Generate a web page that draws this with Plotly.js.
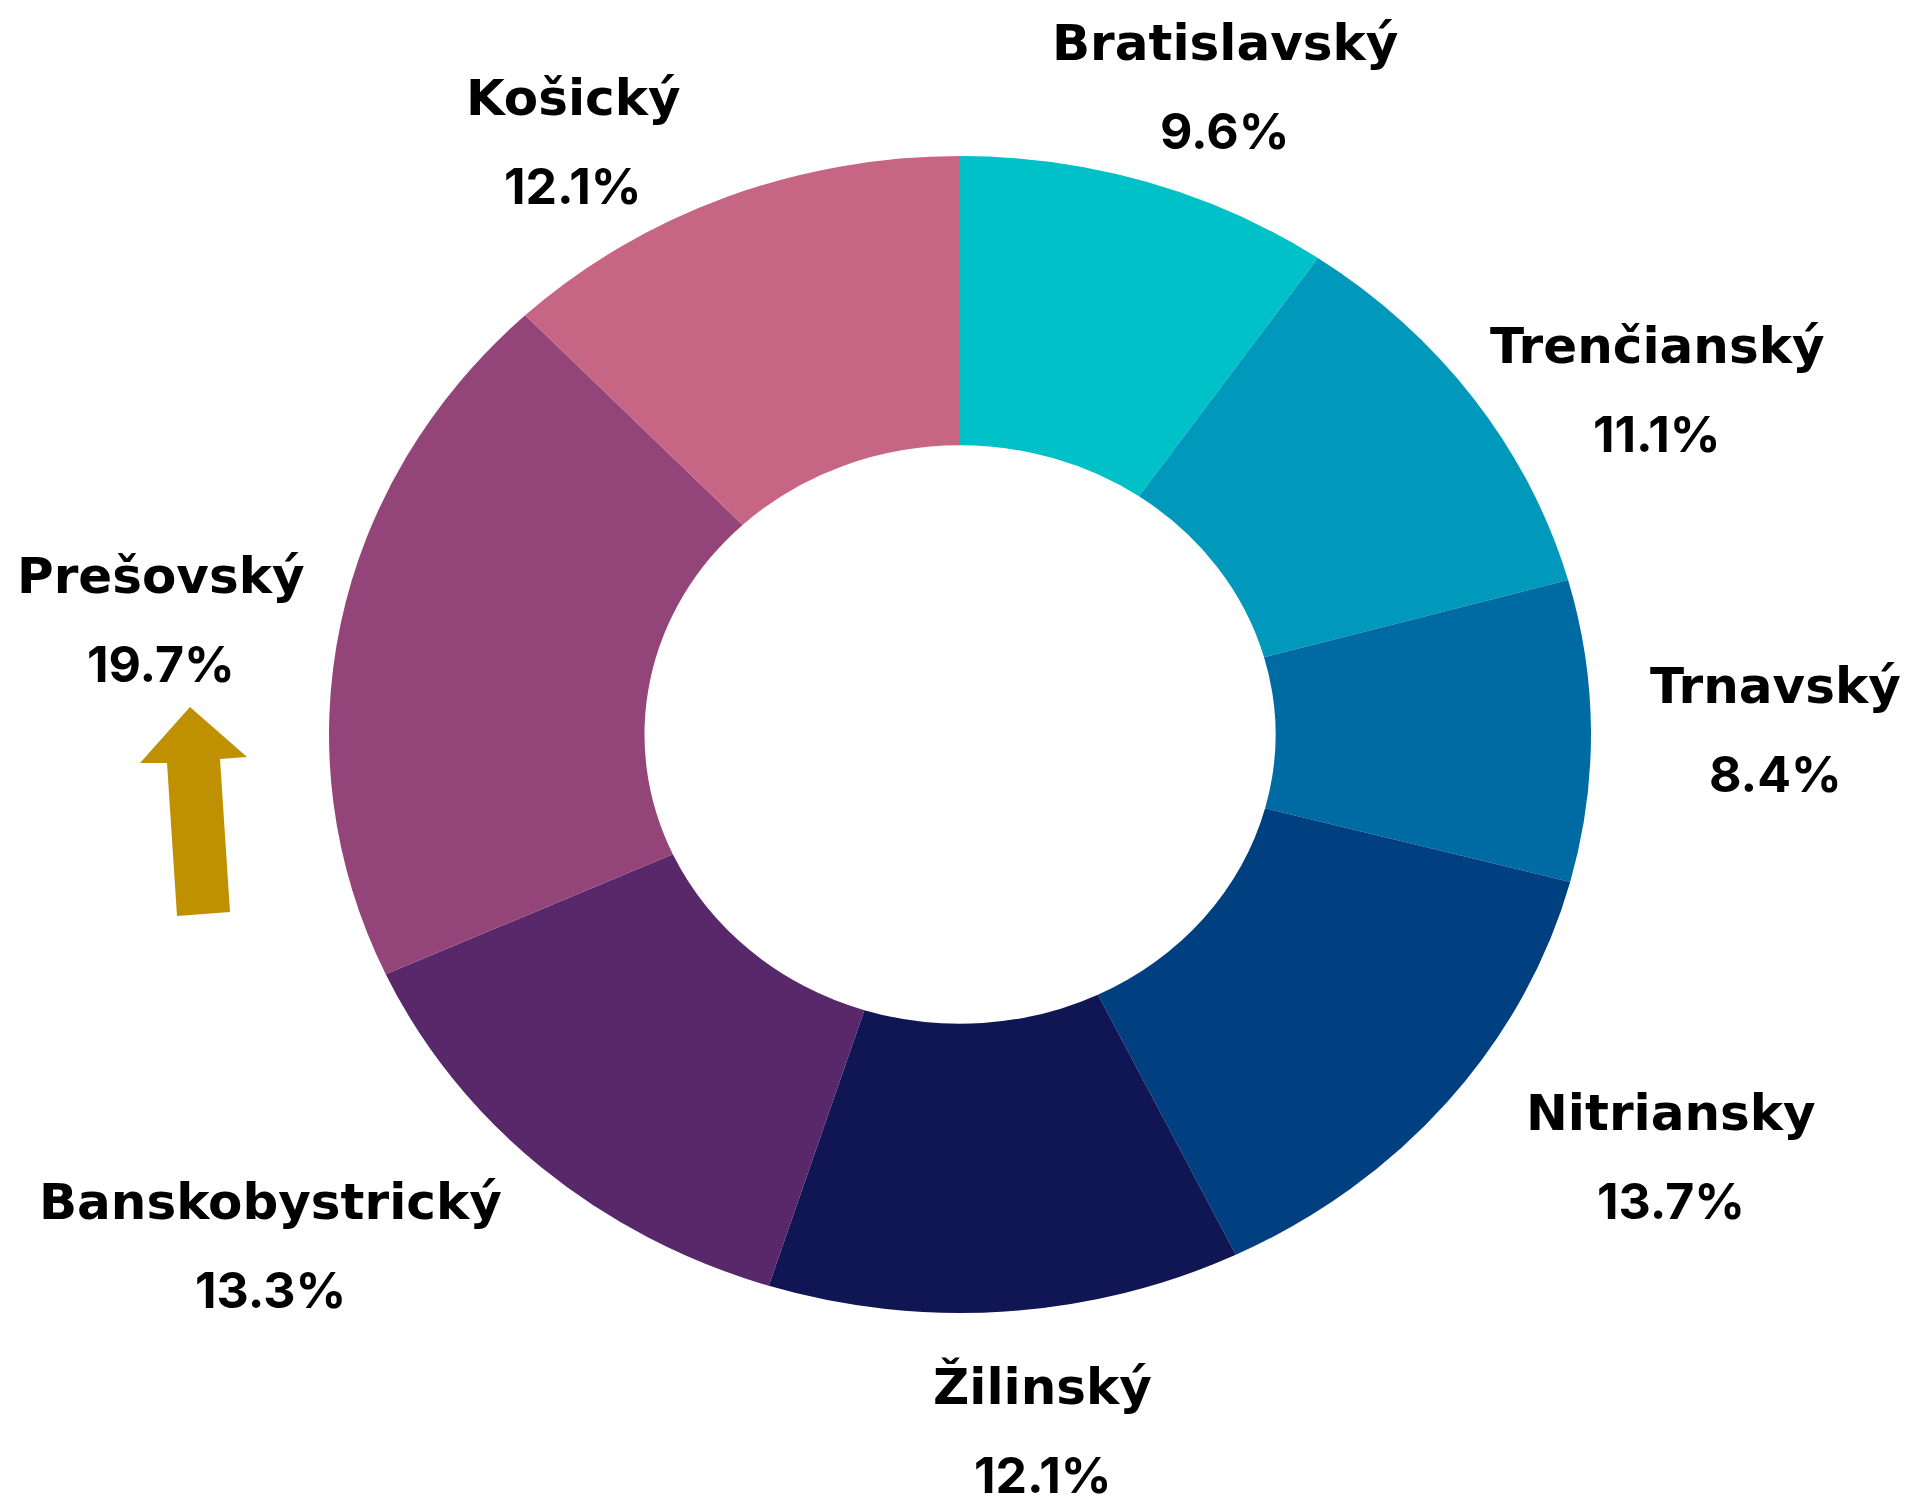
<!DOCTYPE html>
<html>
<head>
<meta charset="utf-8">
<script src="https://cdn.plot.ly/plotly-3.0.1.min.js"></script>
<style>
  html, body { margin: 0; padding: 0; background: #ffffff; }
  #chart { width: 1912px; height: 1512px; }
</style>
</head>
<body>
<div id="chart"></div>
<script>
// ---- data ----
const regions = ["Bratislavský", "Trenčianský", "Trnavský", "Nitriansky", "Žilinský", "Banskobystrický", "Prešovský", "Košický"];
const shares = [9.6, 11.1, 8.4, 13.7, 12.1, 13.3, 19.7, 12.1];
const colors = ["#00C0C8", "#0099BB", "#006BA3", "#003F80", "#101654", "#58286A", "#934579", "#C76585"];

// ---- layout constants (pixels) ----
const W = 1912, H = 1512;
const CX = 960, CY = 734.5;      // donut centre
const RX = 631, RY = 578.5;      // outer radii of the (elliptical) donut
const HOLE = 0.5;
const NAME_FONT = "DejaVu Sans";
const PCT_FONT = "Inter, 'DejaVu Sans', sans-serif";
const FONT_SIZE = 50;
const LABEL_RX = 690, LABEL_RY = 590, BLOCK_HALF_H = 62, LINE_HALF_GAP = 44;
// small per-label placement tweaks [dx, dy] in pixels, in slice order
const LABEL_NUDGE = [[-43, -22], [-32, 60], [0, 0], [33, -14], [17, 46], [0, 8], [22, 21], [-51, 17]];

function px2x(p) { return p / W; }
function px2y(p) { return 1 - p / H; }

const trace = {
  type: "pie",
  labels: regions,
  values: shares,
  sort: false,
  direction: "clockwise",
  rotation: 0,
  hole: HOLE,
  textinfo: "none",
  hoverinfo: "label+percent",
  marker: { colors: colors, line: { width: 0 } },
  domain: {
    x: [px2x(CX - RY), px2x(CX + RY)],
    y: [px2y(CY + RY), px2y(CY - RY)]
  },
  showlegend: false
};

// label positions derived from each slice's mid-angle
const ctx = document.createElement("canvas").getContext("2d");
ctx.font = "bold " + FONT_SIZE + "px '" + NAME_FONT + "'";
const total = shares.reduce((a, b) => a + b, 0);
const annotations = [];
let cum = 0;
regions.forEach((name, i) => {
  const mid = (cum + shares[i] / 2) / total;
  cum += shares[i];
  const th = mid * 2 * Math.PI;
  const s = Math.sin(th), c = Math.cos(th);
  const w = ctx.measureText(name).width;
  const fx = Math.max(-1, Math.min(1, 2 * s));
  const fy = Math.max(-1, Math.min(1, -2 * c));
  const bx = CX + LABEL_RX * s + fx * w / 2 + LABEL_NUDGE[i][0];
  const by = CY - LABEL_RY * c + fy * BLOCK_HALF_H + LABEL_NUDGE[i][1];
  const pct = (100 * shares[i] / total).toFixed(1) + "%";
  [[name, by - LINE_HALF_GAP, NAME_FONT], [pct, by + LINE_HALF_GAP, PCT_FONT]].forEach(([t, y, f]) => {
    annotations.push({
      text: t, x: px2x(bx), y: px2y(y), xref: "paper", yref: "paper",
      xanchor: "center", yanchor: "middle", showarrow: false,
      font: { family: f, size: FONT_SIZE, color: "#000000", weight: 700 }
    });
  });
});

// decorative block arrow next to Prešovský (pixel outline)
const arrowPts = [[190, 707], [247, 757], [220, 759], [230, 912], [177, 916], [167, 763], [140, 763]];
const arrowPath = "M " + arrowPts.map(p => px2x(p[0]) + "," + px2y(p[1])).join(" L ") + " Z";

const layout = {
  width: W, height: H,
  margin: { l: 0, r: 0, t: 0, b: 0 },
  paper_bgcolor: "#ffffff",
  plot_bgcolor: "#ffffff",
  showlegend: false,
  annotations: annotations,
  shapes: [{
    type: "path", xref: "paper", yref: "paper", path: arrowPath,
    fillcolor: "#BF9000", line: { width: 0 }, layer: "above"
  }]
};

const gd = document.getElementById("chart");
Plotly.newPlot(gd, [trace], layout, { displayModeBar: false, staticPlot: true }).then(function () {
  // stretch the circular donut horizontally into the reference's ellipse
  let cx = CX;
  try { cx = gd.calcdata[0][0].cx || CX; } catch (e) {}
  const k = RX / RY;
  const pl = gd.querySelector(".pielayer");
  if (pl) pl.setAttribute("transform", "translate(" + (cx * (1 - k)) + ",0) scale(" + k + ",1)");
});
</script>
</body>
</html>
